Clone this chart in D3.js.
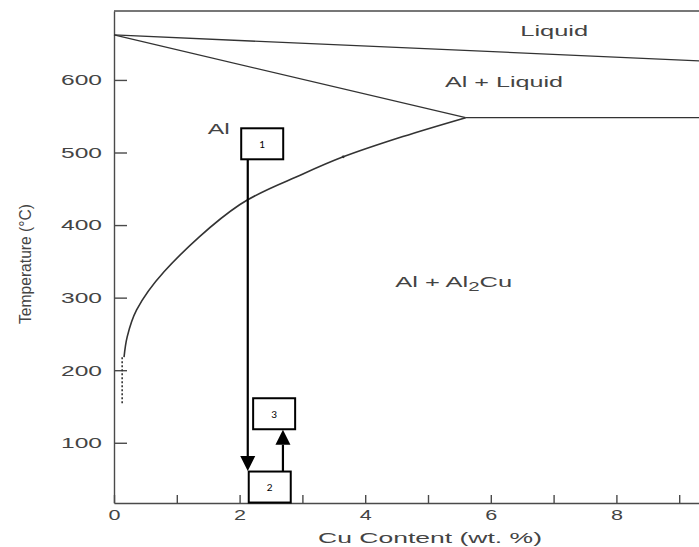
<!DOCTYPE html>
<html>
<head>
<meta charset="utf-8">
<script src="https://cdn.jsdelivr.net/npm/d3@7"></script>
<style>
  body { margin: 0; background: #fff; }
  svg { display: block; font-family: "Liberation Sans", Arial, sans-serif; }
  .axis path, .axis line { stroke: #4a4a4a; stroke-width: 1.4px; }
  .axis text { fill: #444; font-size: 15px; }
  .phase { fill: none; stroke: #333; stroke-width: 1.3px; }
  .region { fill: #444; font-size: 15px; text-anchor: middle; }
  .box { fill: none; stroke: #000; stroke-width: 2px; }
  .boxlabel { font-family: Lato, "Open Sans", sans-serif; font-size: 10px; fill: #000; text-anchor: middle; }
</style>
</head>
<body>
<svg width="699" height="547"></svg>
<script>
// ---- data (Cu wt.% , temperature °C) ----
var xTicks = [0, 1, 2, 3, 4, 5, 6, 7, 8, 9];
var xTickLabels = [0, 2, 4, 6, 8];
var yTicks = [100, 200, 300, 400, 500, 600];

var liquidus = [[0, 662], [9.4, 626]];
var solidus = [[0, 662], [5.6, 548]];
var eutectic = [[5.6, 548], [9.4, 548]];
var solvus = [[0.16, 218], [0.21, 246], [0.36, 283], [0.8, 336],
              [2.0, 428], [3.0, 470], [3.65, 494], [4.6, 522], [5.6, 548]];
var solvusDashed = [[0.13, 218], [0.13, 152]];

var regionNames = ["Liquid", "Al + Liquid", "Al", "Al + Al2Cu"];
var regionX = [7.01, 6.21, 1.67, 5.41];
var regionT = [660, 590, 525, 314];
var regionWidth = [68, 118, 22, 117];

// numbered boxes and the quench / age arrows
var boxLabels = ["1", "2", "3"];
var boxX = [2.36, 2.48, 2.55];
var boxT = [512, 39, 140];
var arrows = [{x: 2.13, from: 491, to: 61}, {x: 2.69, from: 60, to: 118}];

var svg = d3.select("svg");
var margin = {left: 114, top: 11, bottom: 503};

var x = d3.scaleLinear().domain([0, 9.4]).range([margin.left, margin.left + 9.4 * 62.8]);
var y = d3.scaleLinear().domain([17, 695]).range([margin.bottom, margin.top]);

// frame top
svg.append("line")
  .attr("x1", x(0)).attr("x2", x(9.4))
  .attr("y1", y(695)).attr("y2", y(695))
  .style("stroke", "#4a4a4a").style("stroke-width", "1.4px");

// axes
var yAxis = svg.append("g")
  .attr("class", "axis")
  .attr("transform", "translate(" + x(0) + ",0)")
  .call(d3.axisLeft(y).tickValues(yTicks).tickSize(-13).tickSizeOuter(0).tickPadding(12));
yAxis.selectAll("text")
  .attr("textLength", 41).attr("lengthAdjust", "spacingAndGlyphs");

var xAxis = svg.append("g")
  .attr("class", "axis")
  .attr("transform", "translate(0," + y(17) + ")")
  .call(d3.axisBottom(x).tickValues(xTicks).tickSize(-8).tickSizeOuter(0).tickPadding(6)
    .tickFormat(function(d){ return xTickLabels.indexOf(d) >= 0 ? d : ""; }));
xAxis.selectAll("text")
  .filter(function(d){ return xTickLabels.indexOf(d) >= 0; })
  .attr("textLength", 12).attr("lengthAdjust", "spacingAndGlyphs");

// axis titles
svg.append("text")
  .attr("x", 430).attr("y", 543)
  .attr("text-anchor", "middle")
  .style("font-size", "15px").style("fill", "#444")
  .attr("textLength", 224).attr("lengthAdjust", "spacingAndGlyphs")
  .text("Cu Content (wt. %)");

svg.append("text")
  .attr("transform", "translate(31,264) rotate(-90)")
  .attr("text-anchor", "middle")
  .style("font-size", "17px").style("fill", "#444")
  .attr("textLength", 120).attr("lengthAdjust", "spacingAndGlyphs")
  .text("Temperature (°C)");

// phase boundaries
var line = d3.line().x(function(d){ return x(d[0]); }).y(function(d){ return y(d[1]); });
var curve = d3.line().curve(d3.curveCatmullRom.alpha(0.5))
  .x(function(d){ return x(d[0]); }).y(function(d){ return y(d[1]); });

[liquidus, solidus, eutectic].forEach(function(seg){
  svg.append("path").attr("class", "phase").attr("d", line(seg));
});
svg.append("path").attr("class", "phase").attr("d", curve(solvus)).style("stroke-width", "1.6px");
svg.append("path").attr("class", "phase").attr("d", line(solvusDashed))
  .style("stroke-dasharray", "2,2").style("stroke-width", "1.6px");
svg.append("circle").attr("cx", x(3.65)).attr("cy", y(494)).attr("r", 1.4).style("fill", "#333");

// region labels
regionNames.forEach(function(name, i){
  var t = svg.append("text")
    .attr("class", "region")
    .attr("x", x(regionX[i])).attr("y", y(regionT[i]))
    .attr("textLength", regionWidth[i]).attr("lengthAdjust", "spacingAndGlyphs");
  if (name === "Al + Al2Cu") {
    t.append("tspan").text("Al + Al");
    t.append("tspan").attr("dy", 4).style("font-size", "12px").text("2");
    t.append("tspan").attr("dy", -4).text("Cu");
  } else {
    t.text(name);
  }
});

// arrows
arrows.forEach(function(a){
  var px = x(a.x), y0 = y(a.from), y1 = y(a.to);
  var dir = y1 > y0 ? 1 : -1;
  var head = 15, half = 7.5;
  svg.append("line")
    .attr("x1", px).attr("x2", px)
    .attr("y1", y0).attr("y2", y1 - dir * head)
    .style("stroke", "#000").style("stroke-width", "2.2px");
  svg.append("path")
    .attr("d", "M" + [px - half, y1 - dir * head] + "L" + [px + half, y1 - dir * head] + "L" + [px, y1] + "Z")
    .style("fill", "#000");
});

// numbered boxes
var bw = 42, bh = 31;
boxLabels.forEach(function(lab, i){
  var cx = x(boxX[i]), cy = y(boxT[i]);
  svg.append("rect").attr("class", "box")
    .attr("x", cx - bw / 2).attr("y", cy - bh / 2)
    .attr("width", bw).attr("height", bh);
  svg.append("text").attr("class", "boxlabel")
    .attr("x", cx).attr("y", cy + 4)
    .text(lab);
});
</script>
</body>
</html>
